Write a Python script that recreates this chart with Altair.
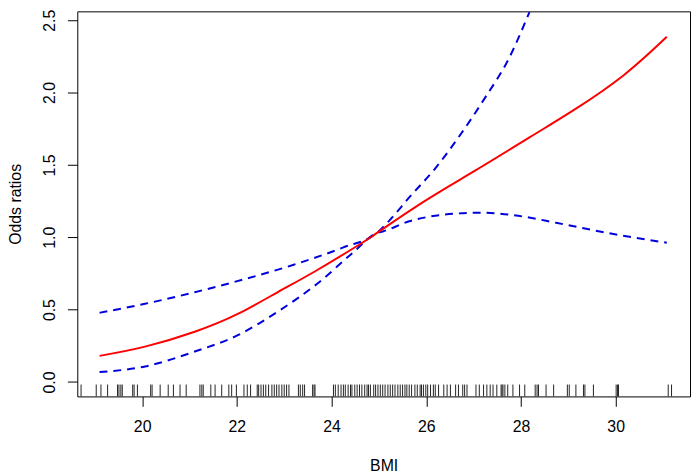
import altair as alt
import pandas as pd

# Odds ratio curve (BMI, OR)
or_bmi = [19.10, 20.06, 21.11, 22.02, 22.85, 23.69, 24.59, 24.96, 25.99, 27.03, 28.18, 29.12, 30.17, 31.08]
or_val = [0.180, 0.244, 0.347, 0.470, 0.618, 0.772, 0.950, 1.030, 1.255, 1.460, 1.690, 1.880, 2.120, 2.385]

# Upper 95% CI
upper_bmi = [19.10, 20.06, 21.11, 22.16, 23.20, 24.25, 24.96, 25.22, 25.64, 26.20, 26.68, 27.24, 27.73, 28.18]
upper_val = [0.478, 0.540, 0.620, 0.710, 0.810, 0.930, 1.030, 1.115, 1.275, 1.480, 1.690, 1.963, 2.226, 2.556]

# Lower 95% CI
lower_bmi = [19.10, 20.06, 21.11, 22.02, 22.85, 23.69, 24.45, 24.96, 25.08, 25.64, 26.34, 27.17, 27.94, 28.77, 29.82, 31.08]
lower_val = [0.068, 0.107, 0.210, 0.323, 0.483, 0.677, 0.893, 1.030, 1.040, 1.110, 1.155, 1.170, 1.148, 1.098, 1.030, 0.962]

# Rug of observed BMI values
rug_bmi = [18.71, 19.03, 19.13, 19.27, 19.48, 19.51, 19.55, 19.58, 19.80, 19.83, 19.90,
           20.18, 20.21, 20.38, 20.55, 20.66, 20.80, 20.93, 21.22, 21.26, 21.29, 21.45,
           21.54, 21.68, 21.83, 21.89, 21.99, 22.15, 22.22, 22.29, 22.43, 22.46, 22.51,
           22.56, 22.61, 22.67, 22.74, 22.79, 22.84, 22.89, 22.95, 23.00, 23.05, 23.10,
           23.30, 23.34, 23.39, 23.43, 23.60, 23.63, 23.65, 24.04, 24.08, 24.14, 24.20,
           24.25, 24.29, 24.35, 24.40, 24.43, 24.49, 24.54, 24.59, 24.64, 24.70, 24.75,
           24.78, 24.82, 24.89, 24.93, 24.98, 25.03, 25.08, 25.13, 25.19, 25.24, 25.29,
           25.34, 25.40, 25.45, 25.50, 25.55, 25.59, 25.64, 25.69, 25.76, 25.81, 25.87,
           25.90, 25.94, 25.99, 26.03, 26.09, 26.15, 26.19, 26.26, 26.37, 26.44, 26.51,
           26.62, 26.68, 26.77, 26.81, 26.86, 27.05, 27.12, 27.21, 27.28, 27.35, 27.41,
           27.49, 27.58, 27.60, 27.62, 27.66, 27.72, 27.83, 27.97, 28.08, 28.30, 28.34,
           28.37, 28.53, 28.69, 28.98, 29.02, 29.16, 29.32, 29.35, 29.53, 30.01, 30.04,
           30.06, 31.11, 31.18]

x_ticks = [20, 22, 24, 26, 28, 30]
y_ticks = [0.0, 0.5, 1.0, 1.5, 2.0, 2.5]

W, H = 619, 389
FONT = "Liberation Sans, Arial, Helvetica, sans-serif"

df_or = pd.DataFrame({"bmi": or_bmi, "value": or_val})
df_up = pd.DataFrame({"bmi": upper_bmi, "value": upper_val})
df_lo = pd.DataFrame({"bmi": lower_bmi, "value": lower_val})
df_rug = pd.DataFrame({"bmi": rug_bmi})

xscale = alt.Scale(domain=[18.63, 31.57], nice=False, zero=False)
yscale = alt.Scale(domain=[-0.1, 2.561], nice=False, zero=False)

xaxis = alt.Axis(values=x_ticks, format="d", title="BMI", domain=False, grid=False,
                 tickSize=10, labelPadding=25.3, labelBaseline="alphabetic",
                 labelAlign="center", labelFlush=False, labelOverlap=False,
                 titleY=74.5, titleBaseline="alphabetic", titleAlign="center")
yaxis = alt.Axis(values=y_ticks, format=".1f", title="Odds ratios", domain=False, grid=False,
                 tickSize=10, labelAngle=270, labelAlign="center",
                 labelBaseline="alphabetic", labelPadding=13.5, labelFlush=False,
                 labelOverlap=False, titleAngle=270, titleX=-57.5,
                 titleBaseline="alphabetic", titleAlign="center")


def xenc():
    return alt.X("bmi:Q", scale=xscale, axis=xaxis)


def yenc():
    return alt.Y("value:Q", scale=yscale, axis=yaxis)


rug = alt.Chart(df_rug).mark_rule(color="#222222", strokeWidth=1).encode(
    x=xenc(), y=alt.value(H), y2=alt.value(H - 12)
)

lower = alt.Chart(df_lo).mark_line(color="#0000DD", strokeWidth=2, strokeDash=[8, 6],
                                   interpolate="monotone", clip=True).encode(x=xenc(), y=yenc())
upper = alt.Chart(df_up).mark_line(color="#0000DD", strokeWidth=2, strokeDash=[8, 6],
                                   interpolate="monotone", clip=True).encode(x=xenc(), y=yenc())
red = alt.Chart(df_or).mark_line(color="#FF0000", strokeWidth=2,
                                 interpolate="natural", clip=True).encode(x=xenc(), y=yenc())

chart = alt.layer(rug, lower, upper, red).properties(
    width=W, height=H,
    padding={"left": 70, "top": 1, "right": 1, "bottom": 77},
    autosize=alt.AutoSizeParams(type="none"),
    background="white",
).configure_view(
    stroke="black", strokeWidth=1
).configure_axis(
    labelFont=FONT, titleFont=FONT, labelFontSize=16, titleFontSize=16,
    labelColor="black", titleColor="black", tickColor="black", tickWidth=1,
    titleFontWeight="normal"
)

chart.save("out.html", embed_options={"renderer": "svg", "actions": False})
